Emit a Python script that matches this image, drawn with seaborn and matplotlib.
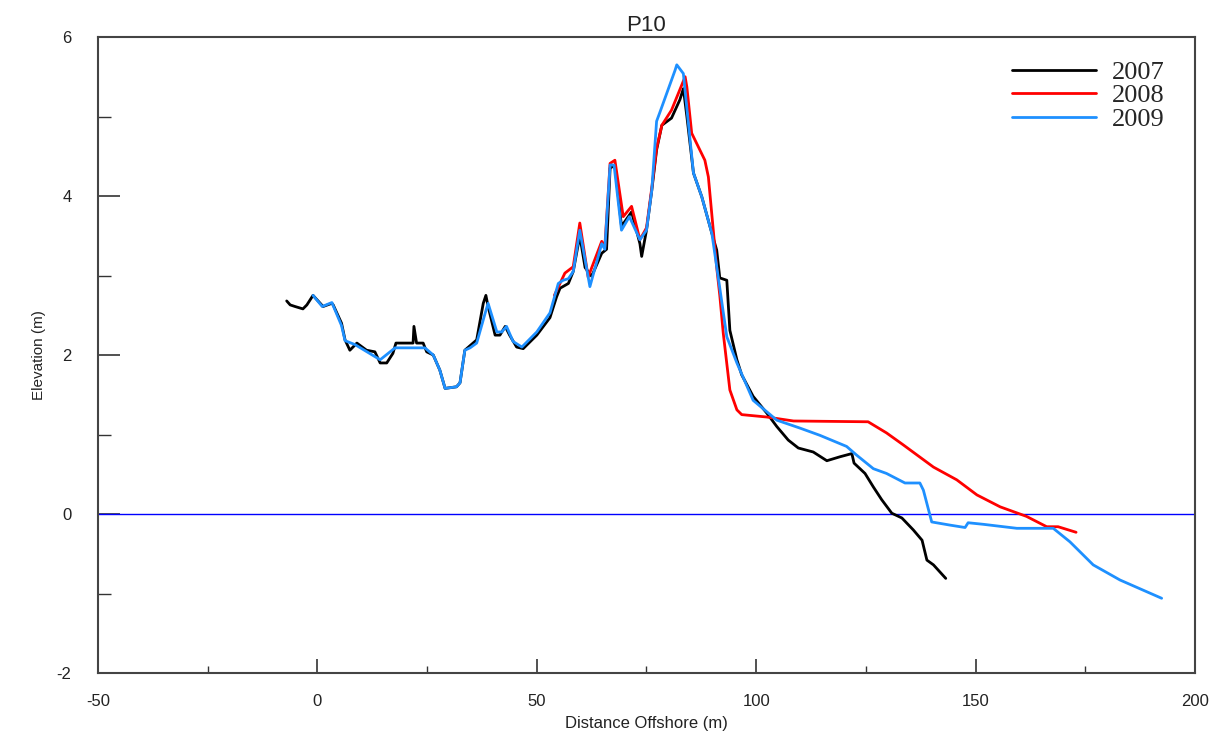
import matplotlib
matplotlib.use("Agg")
import matplotlib.pyplot as plt
import seaborn as sns
import pandas as pd
from matplotlib.ticker import MultipleLocator

# ---------------- data ----------------
x_2007 = [-7.0, -6.2, -5.1, -3.3, -2.4, -1.0, 1.3, 3.3, 3.6, 5.5, 6.3, 7.4, 9.0, 11.2, 13.1, 14.3,
          15.8, 17.2, 17.9, 19.5, 21.8, 22.0, 22.6, 24.1, 24.9, 26.4, 27.9, 29.1, 31.7, 32.5, 33.6,
          36.3, 37.8, 38.4, 38.9, 40.5, 41.6, 42.8, 43.8, 45.4, 46.9, 50.0, 53.0, 54.5, 55.3, 57.2,
          58.3, 59.8, 61.0, 62.5, 64.8, 65.9, 66.7, 67.8, 69.3, 71.6, 73.5, 73.9, 75.0, 76.2, 77.3,
          78.5, 80.7, 82.6, 83.4, 84.2, 85.7, 87.6, 89.9, 91.0, 91.7, 93.3, 94.0, 95.6, 96.7, 99.3,
          102.4, 104.7, 107.3, 109.6, 113.0, 116.1, 119.1, 121.8, 122.3, 124.8, 126.7, 128.6, 130.9,
          133.2, 135.8, 137.8, 138.9, 140.4, 143.2]
y_2007 = [2.68, 2.63, 2.61, 2.58, 2.63, 2.75, 2.61, 2.65, 2.63, 2.40, 2.19, 2.06, 2.15, 2.06, 2.04, 1.90,
          1.90, 2.02, 2.15, 2.15, 2.15, 2.36, 2.15, 2.15, 2.04, 2.00, 1.81, 1.58, 1.60, 1.65, 2.06,
          2.19, 2.65, 2.75, 2.61, 2.25, 2.25, 2.36, 2.25, 2.10, 2.08, 2.25, 2.47, 2.73, 2.84, 2.90,
          3.05, 3.50, 3.10, 2.99, 3.28, 3.33, 4.35, 4.39, 3.62, 3.80, 3.40, 3.24, 3.57, 4.07, 4.58,
          4.89, 4.98, 5.21, 5.35, 5.00, 4.29, 3.99, 3.53, 3.32, 2.97, 2.94, 2.31, 1.94, 1.75, 1.48,
          1.27, 1.10, 0.93, 0.83, 0.78, 0.67, 0.72, 0.76, 0.64, 0.51, 0.34, 0.18, 0.01,
          -0.05, -0.20, -0.33, -0.58, -0.64, -0.81]

x_2008 = [54.0, 56.4, 58.3, 59.8, 61.7, 64.8, 65.5, 66.7, 67.8, 69.7, 71.6, 73.5, 75.0, 76.2, 77.3,
          78.5, 80.7, 83.8, 84.2, 85.3, 88.3, 89.1, 91.0, 91.7, 92.5, 94.0, 95.6, 96.7, 102.4, 108.5,
          125.5, 129.7, 133.5, 140.4, 145.7, 150.3, 155.6, 161.6, 166.2, 168.8, 172.9]
y_2008 = [2.75, 3.03, 3.11, 3.66, 2.98, 3.43, 3.36, 4.41, 4.45, 3.74, 3.87, 3.45, 3.60, 4.10, 4.60,
          4.89, 5.08, 5.50, 5.37, 4.79, 4.45, 4.24, 3.10, 2.75, 2.27, 1.56, 1.31, 1.25, 1.22, 1.17,
          1.16, 1.02, 0.87, 0.59, 0.43, 0.24, 0.09, -0.03, -0.16, -0.16, -0.23]

x_2009 = [-1.0, 1.1, 3.3, 5.5, 6.3, 8.6, 14.3, 17.7, 24.5, 26.4, 27.9, 29.1, 31.7, 32.5, 33.6, 34.8,
          36.3, 38.2, 38.9, 40.9, 42.0, 43.1, 44.6, 46.6, 50.0, 53.0, 54.9, 56.0, 57.2, 58.3, 59.8,
          62.1, 64.8, 65.5, 66.7, 67.6, 69.3, 71.1, 73.5, 75.0, 76.2, 77.3, 78.1, 81.5, 81.9, 83.4,
          84.2, 85.7, 87.6, 89.9, 91.0, 93.3, 95.6, 99.3, 104.7, 110.0, 114.5, 120.6, 122.9, 126.7,
          129.7, 133.9, 137.3, 138.1, 140.0, 144.2, 147.6, 148.3, 151.8, 159.4, 167.7, 171.5, 176.8,
          182.9, 192.4]
y_2009 = [2.75, 2.61, 2.66, 2.37, 2.18, 2.13, 1.94, 2.09, 2.09, 2.00, 1.81, 1.58, 1.60, 1.65, 2.06, 2.09,
          2.15, 2.52, 2.65, 2.29, 2.29, 2.36, 2.17, 2.10, 2.29, 2.53, 2.90, 2.94, 2.96, 3.05, 3.57,
          2.86, 3.40, 3.33, 4.39, 4.39, 3.57, 3.74, 3.45, 3.57, 4.07, 4.94, 5.06, 5.58, 5.65, 5.54,
          5.10, 4.29, 3.99, 3.53, 3.11, 2.23, 1.90, 1.43, 1.18, 1.08, 0.99, 0.85, 0.74, 0.57,
          0.51, 0.39, 0.39, 0.30, -0.10, -0.14, -0.17, -0.11, -0.13, -0.18, -0.18, -0.35, -0.64,
          -0.83, -1.06]

years = ["2007", "2008", "2009"]
colors = ["#000000", "#ff0000", "#1e90ff"]
x_ticks = [-50, 0, 50, 100, 150, 200]
y_ticks = [-2, 0, 2, 4, 6]

# ---------------- plot ----------------
sns.set_style("white")
plt.rcParams["font.family"] = ["Liberation Sans", "DejaVu Sans"]
plt.rcParams["axes.unicode_minus"] = False

fig = plt.figure(figsize=(12.26, 7.40), dpi=100)
ax = fig.add_axes([98 / 1226, 1 - 673 / 740, (1195 - 98) / 1226, (673 - 37) / 740])

ax.axhline(0, color="#0000ff", lw=1.0, zorder=1)

series = [(x_2007, y_2007), (x_2008, y_2008), (x_2009, y_2009)]
for (xs, ys), yr, c in zip(series, years, colors):
    df = pd.DataFrame({"x": xs, "y": ys})
    sns.lineplot(data=df, x="x", y="y", sort=False, estimator=None, color=c, lw=2.0,
                 label=yr, ax=ax, zorder=2)

ax.set_xlim(-50, 200)
ax.set_ylim(-2, 6)
ax.set_xticks(x_ticks)
ax.set_yticks(y_ticks)
ax.xaxis.set_minor_locator(MultipleLocator(25))
ax.yaxis.set_minor_locator(MultipleLocator(1))
ax.tick_params(which="both", bottom=True, left=True, top=False, right=False)
ax.tick_params(axis="x", which="major", direction="in", length=10, width=1.2, pad=15,
               labelsize=12, color="#333333", labelcolor="#222222")
ax.tick_params(axis="x", which="minor", direction="in", length=5, width=1.0, color="#333333")
ax.tick_params(axis="y", which="major", direction="in", length=16, width=1.2, pad=19,
               labelsize=12, color="#333333", labelcolor="#222222")
ax.tick_params(axis="y", which="minor", direction="in", length=9, width=1.0, color="#333333")
for s in ax.spines.values():
    s.set_visible(True)
    s.set_color("#444444")
    s.set_linewidth(1.5)

ax.set_xlabel("Distance Offshore (m)", fontsize=12, labelpad=5, color="#222222")
ax.set_ylabel("Elevation (m)", fontsize=11, labelpad=8, color="#222222")
ax.set_title("P10", fontsize=16, pad=4, color="#222222")

leg = ax.legend(loc="upper right", bbox_to_anchor=(0.9727, 0.963), frameon=False,
                prop={"family": ["Liberation Serif"], "size": 19}, handlelength=3.2,
                handletextpad=0.6, labelspacing=0.0, borderpad=0, borderaxespad=0)
for line in leg.get_lines():
    line.set_linewidth(2.0)

fig.savefig("out.png", dpi=100)
